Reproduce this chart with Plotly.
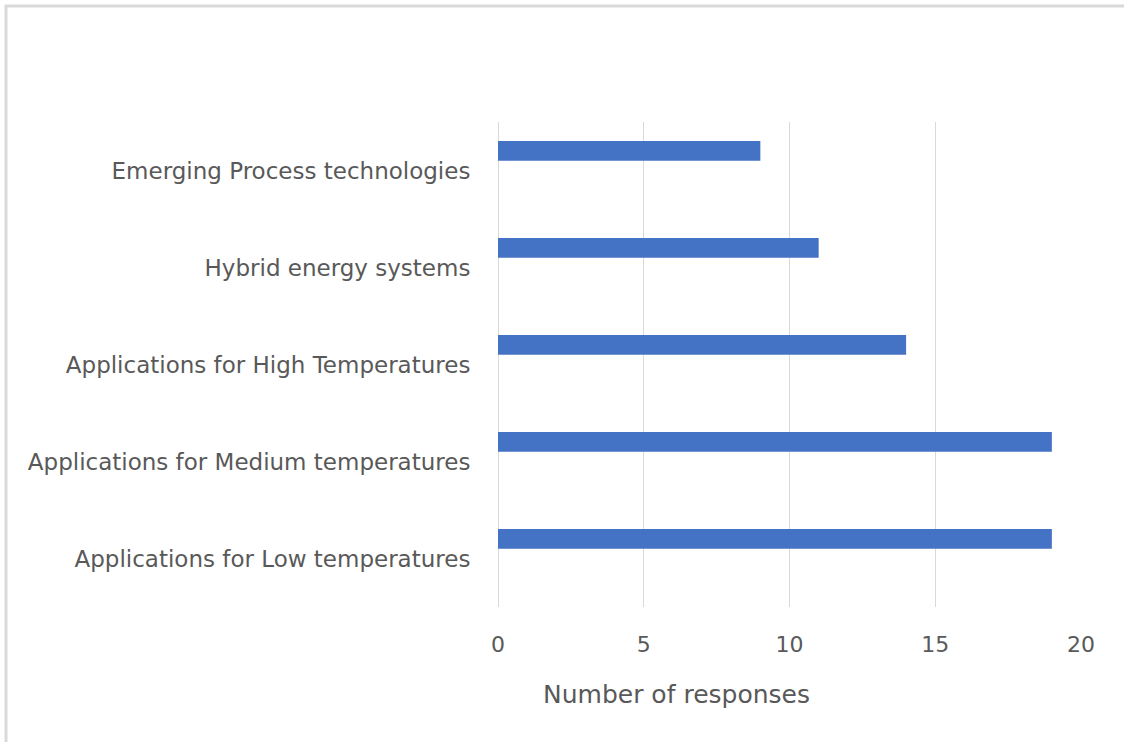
import plotly.graph_objects as go

# Survey topics (bottom to top as drawn) and response counts
categories = [
    "Applications for Low temperatures",
    "Applications for Medium temperatures",
    "Applications for High Temperatures",
    "Hybrid energy systems",
    "Emerging Process technologies",
]
responses = [19, 19, 14, 11, 9]
x_ticks = [0, 5, 10, 15, 20]
x_title = "Number of responses"

W, H = 1124, 742
L, R, T, B = 498, 43, 122, 135
pw, ph = W - L - R, H - T - B

text_color = "#595959"
grid_color = "#d9d9d9"
font_family = "DejaVu Sans, Open Sans, sans-serif"

fig = go.Figure(
    go.Bar(
        x=responses,
        y=categories,
        orientation="h",
        # bar sits in the upper half of its category slot
        width=0.205,
        offset=0.1,
        marker=dict(color="#4472C4", line=dict(width=0)),
        hoverinfo="x+y",
    )
)

fig.update_layout(
    width=W,
    height=H,
    margin=dict(l=L, r=R, t=T, b=B),
    paper_bgcolor="white",
    plot_bgcolor="white",
    showlegend=False,
    font=dict(family=font_family, color=text_color, size=20),
    xaxis=dict(
        range=[0, 20],
        tickvals=x_ticks,
        ticktext=[str(v) for v in x_ticks],
        showgrid=True,
        gridcolor=grid_color,
        gridwidth=1,
        zeroline=True,
        zerolinecolor=grid_color,
        zerolinewidth=1,
        showline=False,
        ticks="outside",
        ticklen=18,
        tickcolor="rgba(0,0,0,0)",
        tickfont=dict(size=22, color=text_color),
        fixedrange=True,
    ),
    yaxis=dict(
        categoryorder="array",
        categoryarray=categories,
        range=[-0.5, 4.5],
        showgrid=False,
        zeroline=False,
        showline=False,
        ticks="outside",
        ticklen=22,
        tickcolor="rgba(0,0,0,0)",
        tickfont=dict(size=23, color=text_color),
        fixedrange=True,
    ),
    annotations=[
        dict(
            text=x_title,
            xref="paper",
            yref="paper",
            x=(676 - L) / pw,
            y=-(694 - (T + ph)) / ph,
            xanchor="center",
            yanchor="middle",
            showarrow=False,
            font=dict(size=25, color=text_color, family=font_family),
        )
    ],
    shapes=[
        # light frame around the chart area
        dict(
            type="rect",
            xref="paper",
            yref="paper",
            x0=(6 - L) / pw,
            x1=(W + 20 - L) / pw,
            y0=-(H + 20 - T - ph) / ph,
            y1=1 + (T - 6) / ph,
            line=dict(color=grid_color, width=3),
            fillcolor="rgba(0,0,0,0)",
            layer="below",
        )
    ],
)

fig.write_html("out.html")
